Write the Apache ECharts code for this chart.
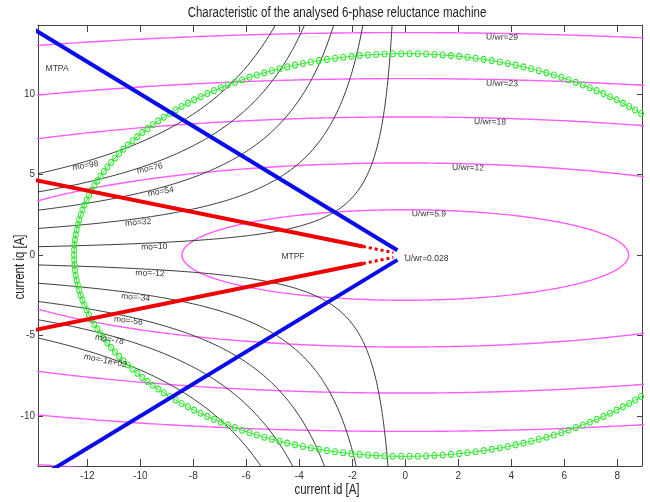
<!DOCTYPE html>
<html>
<head>
<meta charset="utf-8">
<script src="https://cdn.jsdelivr.net/npm/echarts@6/dist/echarts.min.js"></script>
<style>
html, body { margin: 0; padding: 0; background: #fff; }
#chart { width: 650px; height: 502px; }
</style>
</head>
<body>
<div id="chart"></div>
<script>
// Operating plane of the 6-phase reluctance machine: stator current id / iq in A
const idRange = [-13.86, 8.93];
const iqRange = [-13.1, 14.28];

// Machine model: d/q inductances and stator current limit
const Ld = 0.70;
const Lq = 2.10;
const currentLimit = 12.5;
const currentLimitSamples = 250;

// Torque contour levels (mo) with their printed labels
const torqueLevels = [98, 76, 54, 32, 10, -12, -34, -56, -78, -100];
const torqueLabels = ['mo=98', 'mo=76', 'mo=54', 'mo=32', 'mo=10', 'mo=-12', 'mo=-34', 'mo=-56', 'mo=-78', 'mo=-1e+02'];

// Flux-linkage contour levels (U/wr) with their printed labels
const fluxLevels = [0.028, 5.9, 12, 18, 23, 29];
const fluxLabels = ['U/wr=0.028', 'U/wr=5.9', 'U/wr=12', 'U/wr=18', 'U/wr=23', 'U/wr=29'];

// MTPA trajectory (upper and lower branch)
const mtpaUpper = [[-14.5, 14.5], [-0.3, 0.3]];
const mtpaLower = [[-13.6, -13.6], [-0.3, -0.3]];

// MTPF trajectory: solid part and the sparse end near the origin
const mtpfUpper = [[-14.5, 4.83], [-1.6, 0.53]];
const mtpfUpperEnd = [[-1.6, 0.53], [-0.45, 0.15]];
const mtpfLower = [[-14.5, -4.83], [-1.6, -0.53]];
const mtpfLowerEnd = [[-1.6, -0.53], [-0.45, -0.15]];

// Label placement along the contours (id position of each label)
const torqueLabelId = [-12.09, -9.67, -9.25, -10.09, -9.48, -9.63, -10.16, -10.43, -11.14, -11.29];
const fluxLabelId = [0.8, 0.89, 2.37, 3.2, 3.65, 3.65];

const FONT = "'Liberation Sans', Arial, Helvetica, sans-serif";
const NARROW = 0.82;   // horizontal squeeze for the condensed captions

const grid = { left: 38, right: 8, top: 25, bottom: 36 };
const pxPerId = (650 - grid.left - grid.right) / (idRange[1] - idRange[0]);
const pxPerIq = (502 - grid.top - grid.bottom) / (iqRange[1] - iqRange[0]);

const kT = Lq - Ld;

// Torque level curve: mo = (Lq - Ld) * (-id) * iq, on the id < 0 side
function torqueCurve(level) {
  const bound = level > 0 ? iqRange[1] : iqRange[0];
  const idEnd = -level / (kT * bound);
  const idStart = idRange[0];
  const pts = [];
  const n = 240;
  for (let i = 0; i <= n; i++) {
    const id = idStart * Math.pow(idEnd / idStart, i / n);
    pts.push([id, -level / (kT * id)]);
  }
  return pts;
}

// Flux level curve: (Ld*id)^2 + (Lq*iq)^2 = level^2
function fluxCurve(level) {
  const a = level / Ld, b = level / Lq;
  const pts = [];
  const n = 1440;
  for (let i = 0; i <= n; i++) {
    const t = 2 * Math.PI * i / n;
    pts.push([a * Math.cos(t), b * Math.sin(t)]);
  }
  return pts;
}

// Current limit circle id^2 + iq^2 = Imax^2
function currentCircle() {
  const pts = [];
  for (let i = 0; i <= currentLimitSamples; i++) {
    const t = 2 * Math.PI * i / currentLimitSamples;
    pts.push([currentLimit * Math.cos(t), currentLimit * Math.sin(t)]);
  }
  return pts;
}

// Label tilt, eased toward horizontal
function angleDeg(slope) {
  return 0.6 * Math.atan(slope * pxPerIq / pxPerId) * 180 / Math.PI;
}

function labelPoint(coord, text, rotate) {
  return {
    coord: coord,
    symbol: 'circle',
    symbolSize: 0,
    label: {
      show: true,
      position: 'inside',
      formatter: text,
      rotate: rotate,
      offset: [0, 4],
      fontFamily: FONT,
      fontSize: 8.5,
      color: '#333'
    }
  };
}

const series = [];

fluxLevels.forEach((lv, i) => {
  const a = lv / Ld, b = lv / Lq;
  const x = fluxLabelId[i];
  const r = Math.max(0, 1 - (x / a) * (x / a));
  const y = b * Math.sqrt(r);
  const slope = r > 0 ? -b * (x / (a * a)) / Math.sqrt(r) : 0;
  series.push({
    name: fluxLabels[i],
    type: 'line',
    data: fluxCurve(lv),
    showSymbol: false,
    clip: true,
    silent: true,
    lineStyle: { color: '#ff5cff', width: 1.4 },
    markPoint: { silent: true, data: [labelPoint([x, y], fluxLabels[i], angleDeg(slope))] },
    z: 2
  });
});

torqueLevels.forEach((lv, i) => {
  const x = torqueLabelId[i];
  const y = -lv / (kT * x);
  const slope = lv / (kT * x * x);
  series.push({
    name: torqueLabels[i],
    type: 'line',
    data: torqueCurve(lv),
    showSymbol: false,
    clip: true,
    silent: true,
    lineStyle: { color: '#3a3a3a', width: 1 },
    markPoint: { silent: true, data: [labelPoint([x, y], torqueLabels[i], angleDeg(slope))] },
    z: 3
  });
});

series.push({
  name: 'current limit',
  type: 'line',
  data: currentCircle(),
  symbol: 'circle',
  symbolSize: [5, 6],
  showAllSymbol: true,
  clip: true,
  silent: true,
  lineStyle: { color: '#33e633', width: 1 },
  itemStyle: { color: 'rgba(0,0,0,0)', borderColor: '#33e633', borderWidth: 1 },
  z: 4
});

function straight(name, data, color, width, type, extra) {
  const s = {
    name: name,
    type: 'line',
    data: data,
    showSymbol: false,
    clip: true,
    silent: true,
    lineStyle: { color: color, width: width, type: type || 'solid' },
    z: 5
  };
  return Object.assign(s, extra || {});
}

function caption(coord, text) {
  return { silent: true, data: [{ coord: coord, symbol: 'circle', symbolSize: 0,
    label: { show: true, position: 'inside', formatter: text, fontFamily: FONT, fontSize: 8.5, color: '#333' } }] };
}

series.push(straight('MTPA', mtpaUpper, '#0a0aee', 4, 'solid', { markPoint: caption([-13.14, 11.55], 'MTPA') }));
series.push(straight('MTPA lower', mtpaLower, '#0a0aee', 4));
series.push(straight('MTPF', mtpfUpper, '#f00000', 4, 'solid', { markPoint: caption([-4.24, -0.12], 'MTPF') }));
series.push(straight('MTPF lower', mtpfLower, '#f00000', 4));
series.push(straight('MTPF end', mtpfUpperEnd, '#f00000', 3, [3, 3]));
series.push(straight('MTPF lower end', mtpfLowerEnd, '#f00000', 3, [3, 3]));

const axisColor = '#444';

function xAxisDef(position, showLabels) {
  return {
    type: 'value',
    position: position,
    min: idRange[0],
    max: idRange[1],
    splitNumber: 11,
    axisLine: { show: true, onZero: false, lineStyle: { color: axisColor, width: 1 } },
    axisTick: { show: true, inside: true, length: 7, lineStyle: { color: axisColor } },
    axisLabel: { show: showLabels, margin: 5, color: '#333', fontSize: 10, fontFamily: FONT,
      showMinLabel: false, showMaxLabel: false },
    splitLine: { show: false }
  };
}

function yAxisDef(position, showLabels) {
  return {
    type: 'value',
    position: position,
    min: iqRange[0],
    max: iqRange[1],
    splitNumber: 6,
    axisLine: { show: true, onZero: false, lineStyle: { color: axisColor, width: 1 } },
    axisTick: { show: true, inside: true, length: 5, lineStyle: { color: axisColor } },
    axisLabel: { show: showLabels, margin: 3, color: '#333', fontSize: 10, fontFamily: FONT,
      showMinLabel: false, showMaxLabel: false },
    splitLine: { show: false }
  };
}

const chart = echarts.init(document.getElementById('chart'), null, { renderer: 'canvas' });
chart.setOption({
  animation: false,
  backgroundColor: '#fff',
  grid: grid,
  xAxis: [xAxisDef('bottom', true), xAxisDef('top', false)],
  yAxis: [yAxisDef('left', true), yAxisDef('right', false)],
  graphic: [
    { type: 'text', x: 337, y: 13, scaleX: NARROW, style: { text: 'Characteristic of the analysed 6-phase reluctance machine',
      fontFamily: FONT, fontSize: 14, fill: '#222', align: 'center', verticalAlign: 'middle' } },
    { type: 'text', x: 327, y: 490, scaleX: NARROW, style: { text: 'current id [A]', fontFamily: FONT, fontSize: 14, fill: '#222',
      align: 'center', verticalAlign: 'middle' } },
    { type: 'text', x: 20, y: 267, rotation: Math.PI / 2, scaleX: NARROW, style: { text: 'current iq [A]', fontFamily: FONT,
      fontSize: 14, fill: '#222', align: 'center', verticalAlign: 'middle' } }
  ],
  series: series
});
</script>
</body>
</html>
